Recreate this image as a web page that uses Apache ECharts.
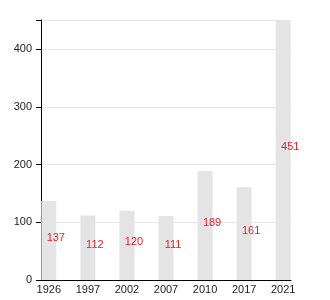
<!DOCTYPE html>
<html><head><meta charset="utf-8">
<script src="https://cdn.jsdelivr.net/npm/echarts@6/dist/echarts.min.js"></script>
<style>html,body{margin:0;padding:0;background:#fff}#c{width:330px;height:300px}</style>
</head><body><div id="c"></div>
<script>
const categories = ['1926','1997','2002','2007','2010','2017','2021'];
const values = [137,112,120,111,189,161,451];
const yTicks = [0,100,200,300,400];

const chart = echarts.init(document.getElementById('c'), null, {renderer:'canvas'});
const font = 'Liberation Sans, Arial, sans-serif';
chart.setOption({
  animation:false,
  grid:{left:41,right:39,top:20,bottom:20,containLabel:false},
  xAxis:{
    type:'value', min:-0.2, max:6.2,
    axisLine:{show:true,onZero:false,lineStyle:{color:'#000',width:1}},
    axisTick:{show:false},
    splitLine:{show:false},
    axisLabel:{customValues:categories.map((c,i)=>i), formatter:v=>categories[Math.round(v)]||'',
      color:'#222', fontSize:11, fontFamily:font, margin:4}
  },
  yAxis:{
    type:'value', min:0, max:451, interval:100,
    axisLine:{show:true,onZero:false,lineStyle:{color:'#000',width:1}},
    axisTick:{show:true,length:5,inside:false,lineStyle:{color:'#000',width:1}},
    splitLine:{show:true,lineStyle:{color:'#e6e6e6'}},
    axisLabel:{customValues:yTicks, color:'#222', fontSize:11, fontFamily:font, margin:9}
  },
  series:[{
    type:'bar',
    barWidth:15,
    data:values.map((v,i)=>[i,v]),
    itemStyle:{color:'#e4e4e4'},
    label:{show:true,position:'inside',offset:[7,-3],color:'#e8202a',fontSize:11,fontFamily:font,
      formatter:p=>String(p.value[1])}
  }]
});
</script></body></html>
